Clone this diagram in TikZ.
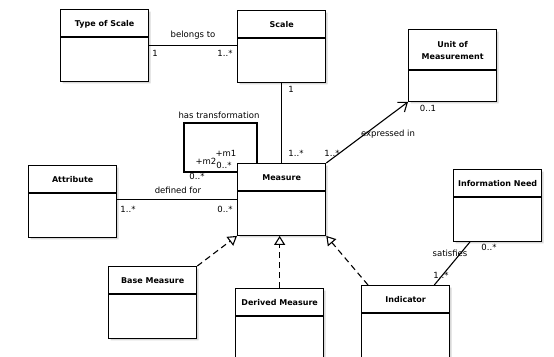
\documentclass[tikz,border=0pt]{standalone}
\usepackage{fontspec}
\setmainfont{DejaVu Sans}
\usetikzlibrary{shapes.multipart,arrows.meta,shadows,calc}

% struts for the two compartments of a class box
\newcommand{\hd}{\rule[-10pt]{0pt}{26pt}}
\newcommand{\bd}{\rule{0pt}{43pt}}

\begin{document}
\begin{tikzpicture}[x=1pt,y=-1pt]
	\tikzset{klasse/.style={rectangle split, rectangle split parts=2, draw, line width=1.3pt, fill=white, anchor=north west, inner sep=0pt, minimum width=88pt, align=center, font=\fontsize{8}{10}\selectfont\bfseries, drop shadow={shadow xshift=2pt, shadow yshift=-2pt, fill=black!30}},
		lbl/.style={font=\fontsize{8.5}{10}\selectfont, inner sep=0pt},
		assoc/.style={line width=1.1pt},
		gen/.style={line width=1.1pt, dash pattern=on 6pt off 4pt, -{Triangle[open, length=9pt, width=11pt]}}}
	\useasboundingbox (0,0) rectangle (554,356);

	\node[klasse] at (60,9) (tos) {\hd Type of Scale\nodepart{two}\bd};
	\node[klasse] at (237,10) (scale) {\hd Scale\nodepart{two}\bd};
	\node[klasse] at (408,29) (unit) {\rule{0pt}{17pt}Unit of\\[2pt]Measurement\rule[-10pt]{0pt}{0pt}\nodepart{two}\rule{0pt}{30pt}};
	\node[klasse] at (28,165) (attr) {\hd Attribute\nodepart{two}\bd};
	\node[klasse] at (237,163) (measure) {\hd Measure\nodepart{two}\bd};
	\node[klasse] at (453,169) (need) {\hd Information Need\nodepart{two}\bd};
	\node[klasse] at (108,266) (base) {\hd Base Measure\nodepart{two}\bd};
	\node[klasse] at (235,288) (derived) {\hd Derived Measure\nodepart{two}\bd};
	\node[klasse] at (361,285) (ind) {\hd Indicator\nodepart{two}\bd};

	% associations
	\draw[assoc] (tos.east) -- (tos.east -| scale.west);
	\draw[assoc] (scale.south) -- (scale.south |- measure.north);
	\draw[assoc, -{Straight Barb[length=8pt, width=12pt]}] (measure.north east) -- (unit.south west);
	\draw[assoc] (measure.west -| attr.east) -- (measure.west);
	\draw[assoc] ($(measure.north west)+(0,9)$) -| ($(measure.north west)+(-53,-40)$) -| ($(measure.north west)+(20,0)$);
	\draw[assoc] ($(ind.north east)+(-16,0)$) -- ($(need.south west)+(17,0)$);

	% generalisations
	\draw[gen] (base.north east) -- (measure.south west);
	\draw[gen] (derived.north) -- (derived.north |- measure.south);
	\draw[gen] ($(ind.north west)+(7,0)$) -- (measure.south east);

	% labels
	\node[lbl] at (193,35) (belongs) {belongs to};
	\node[lbl] at (155,53) (m1) {1};
	\node[lbl] at (225,53) (m2) {1..*};
	\node[lbl] at (291,89) (m3) {1};
	\node[lbl] at (296,153) (m4) {1..*};
	\node[lbl] at (332,153) (m5) {1..*};
	\node[lbl] at (388,134) (expressed) {expressed in};
	\node[lbl] at (428,108) (m6) {0..1};
	\node[lbl] at (178,190) (defined) {defined for};
	\node[lbl] at (128,209) (m7) {1..*};
	\node[lbl] at (225,209) (m8) {0..*};
	\node[lbl] at (219,115) (trans) {has transformation};
	\node[lbl] at (226,153) (r1) {+m1};
	\node[lbl] at (206,161) (r2) {+m2};
	\node[lbl] at (224,165) (m9) {0..*};
	\node[lbl] at (197,176) (m10) {0..*};
	\node[lbl] at (450,253) (satisfies) {satisfies};
	\node[lbl] at (441,275) (m11) {1..*};
	\node[lbl] at (489,247) (m12) {0..*};
\end{tikzpicture}
\end{document}
